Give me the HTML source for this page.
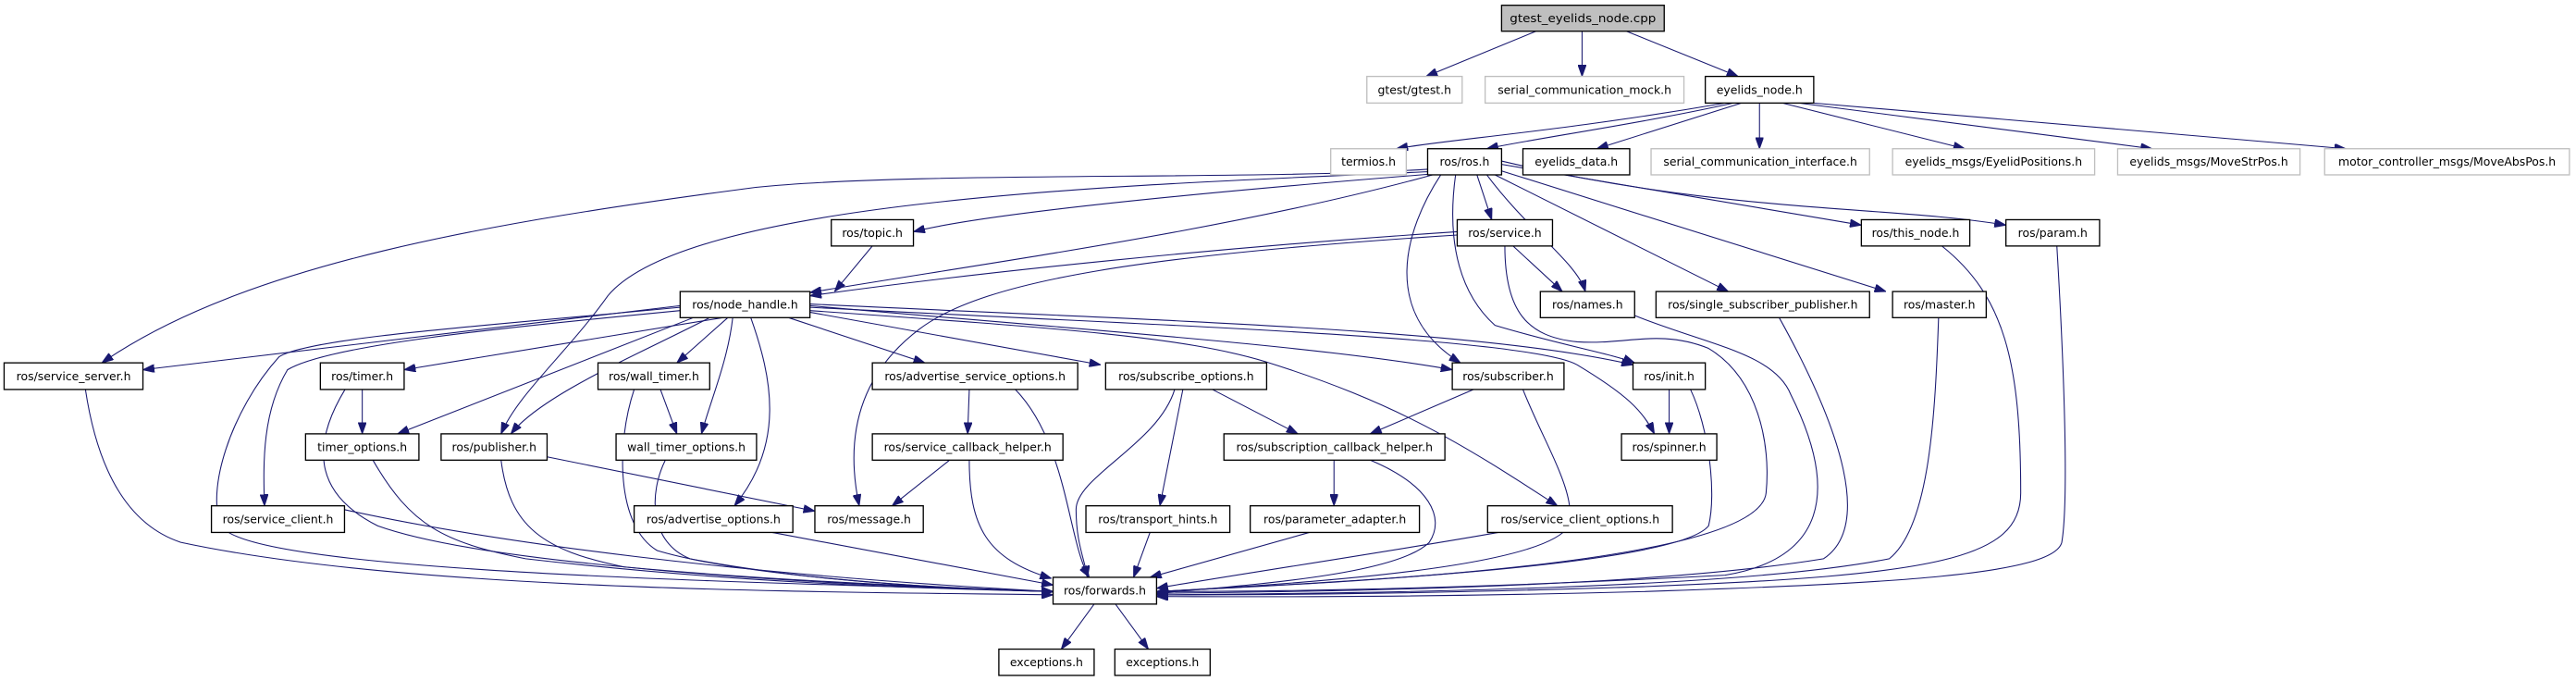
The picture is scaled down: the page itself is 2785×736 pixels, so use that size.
<!DOCTYPE html>
<html><head><meta charset="utf-8"><style>
html,body{margin:0;padding:0;background:#fff;}
svg{display:block;}
text{font-family:"DejaVu Sans","Liberation Sans",sans-serif;font-size:7px;fill:#000;}
.n rect{fill:#fff;stroke:#000;stroke-width:0.75;}
.g rect{fill:#fff;stroke:#bfbfbf;stroke-width:0.75;}
.e path{fill:none;stroke:#191970;stroke-width:0.6;}
</style></head><body>
<svg width="2785" height="736" viewBox="0 0 1568 414.4" preserveAspectRatio="none" xmlns="http://www.w3.org/2000/svg">
<defs><marker id="a" markerWidth="7" markerHeight="5" refX="7" refY="2.5" orient="auto" markerUnits="userSpaceOnUse"><path d="M0,0L7,2.5L0,5z" fill="#191970" stroke="#191970" stroke-width="0.5"/></marker></defs>
<g class="e">
<path d="M935,19 L868,46.5" marker-end="url(#a)"/>
<path d="M963,19 L963,46.5" marker-end="url(#a)"/>
<path d="M990,19 L1058,46.5" marker-end="url(#a)"/>
<path d="M1050,62.7 C950,80 880,85 850,90.5" marker-end="url(#a)"/>
<path d="M1055,62.7 C1000,75 930,85 905,90.5" marker-end="url(#a)"/>
<path d="M1060,62.7 L972,90.5" marker-end="url(#a)"/>
<path d="M1071,62.7 L1071,90.5" marker-end="url(#a)"/>
<path d="M1085,62.7 L1196,90.5" marker-end="url(#a)"/>
<path d="M1095,62.7 L1310,90.5" marker-end="url(#a)"/>
<path d="M1104,62.7 L1428,90.5" marker-end="url(#a)"/>
<path d="M869,103 C760,110 560,104 460,114 C300,135 150,160 62,220.8" marker-end="url(#a)"/>
<path d="M869,104.5 C700,112 420,120 370,180 C345,215 315,240 305,264" marker-end="url(#a)"/>
<path d="M870,106 C720,118 600,130 556,141" marker-end="url(#a)"/>
<path d="M872,106.4 C750,140 600,160 493,178" marker-end="url(#a)"/>
<path d="M877,106.4 C855,140 840,190 889,220.8" marker-end="url(#a)"/>
<path d="M886,106.4 C880,150 890,180 910,198 C950,210 980,215 995,220.8" marker-end="url(#a)"/>
<path d="M899,106.4 L908,133.7" marker-end="url(#a)"/>
<path d="M905,106.4 C930,140 960,160 965,177.4" marker-end="url(#a)"/>
<path d="M910,106.4 L1052,177.4" marker-end="url(#a)"/>
<path d="M914,104 L1148,177.4" marker-end="url(#a)"/>
<path d="M914,100 L1133,137" marker-end="url(#a)"/>
<path d="M914,98 C1050,130 1150,125 1221,137" marker-end="url(#a)"/>
<path d="M921,149.7 L951,177.4" marker-end="url(#a)"/>
<path d="M887,141 C750,150 600,165 493,180" marker-end="url(#a)"/>
<path d="M887,143 C700,155 600,170 560,200 C520,230 515,270 523,307.8" marker-end="url(#a)"/>
<path d="M916,149.7 C916,190 930,205 960,208 C990,210 1010,200 1040,212 C1070,230 1078,270 1075,300 C1070,345 800,355 704,360" marker-end="url(#a)"/>
<path d="M531,149.7 L508,177.4" marker-end="url(#a)"/>
<path d="M414,186 L87,225" marker-end="url(#a)"/>
<path d="M440,193.3 L246,225" marker-end="url(#a)"/>
<path d="M443,193.3 L412,220.8" marker-end="url(#a)"/>
<path d="M480,193.3 L563,220.8" marker-end="url(#a)"/>
<path d="M493,190 L670,222" marker-end="url(#a)"/>
<path d="M493,186 C650,200 800,210 884,225" marker-end="url(#a)"/>
<path d="M493,185 C700,195 900,200 994,222" marker-end="url(#a)"/>
<path d="M493,187 C700,198 930,205 960,222 C990,240 1000,250 1007,264" marker-end="url(#a)"/>
<path d="M493,189 C650,200 720,205 770,220 C850,245 890,270 948,307.8" marker-end="url(#a)"/>
<path d="M422,193.3 L242,264" marker-end="url(#a)"/>
<path d="M432,193.3 C390,215 330,240 311,264" marker-end="url(#a)"/>
<path d="M446,193.3 C443,220 432,245 427,264" marker-end="url(#a)"/>
<path d="M457,193.3 C470,230 478,270 447,307.8" marker-end="url(#a)"/>
<path d="M414,189 C300,200 200,210 175,225 C160,250 160,280 161,307.8" marker-end="url(#a)"/>
<path d="M414,187 C300,198 190,205 170,217 C140,250 125,300 135,320 C150,350 500,355 641,360" marker-end="url(#a)"/>
<path d="M52,237 C60,290 80,320 110,330 C250,360 500,360 641,362" marker-end="url(#a)"/>
<path d="M220.5,237 L220.5,264" marker-end="url(#a)"/>
<path d="M210,237 C190,270 190,300 230,320 C300,345 500,355 641,360" marker-end="url(#a)"/>
<path d="M227,280 C250,320 270,330 320,340 C450,355 560,358 641,360" marker-end="url(#a)"/>
<path d="M305,280 C310,320 330,335 380,345 C480,355 580,358 641,360" marker-end="url(#a)"/>
<path d="M333,278 L496,311" marker-end="url(#a)"/>
<path d="M402,237 L412,264" marker-end="url(#a)"/>
<path d="M386,237 C375,270 375,320 400,335 C450,350 560,358 641,360" marker-end="url(#a)"/>
<path d="M405,280 C395,300 395,330 420,340 C500,355 580,358 641,360" marker-end="url(#a)"/>
<path d="M590,237 L589,264" marker-end="url(#a)"/>
<path d="M618,237 C650,270 650,330 663,351.3" marker-end="url(#a)"/>
<path d="M578,280 L543,307.8" marker-end="url(#a)"/>
<path d="M590,280 C590,320 600,340 640,352" marker-end="url(#a)"/>
<path d="M720,237 L706,307.8" marker-end="url(#a)"/>
<path d="M715,237 C705,270 655,290 655,310 C655,330 660,340 662,351.3" marker-end="url(#a)"/>
<path d="M738,237 L790,264" marker-end="url(#a)"/>
<path d="M897,237 L834,264" marker-end="url(#a)"/>
<path d="M927,237 C940,270 960,300 955,320 C940,345 800,355 704,360" marker-end="url(#a)"/>
<path d="M1016,237 L1016,264" marker-end="url(#a)"/>
<path d="M1029,237 C1040,260 1045,300 1040,320 C1020,345 800,355 704,360" marker-end="url(#a)"/>
<path d="M812,280 L812,307.8" marker-end="url(#a)"/>
<path d="M834,280 C870,295 880,315 870,330 C850,350 760,356 704,361" marker-end="url(#a)"/>
<path d="M209,310 C300,330 450,350 641,360" marker-end="url(#a)"/>
<path d="M470,324 L641,356" marker-end="url(#a)"/>
<path d="M700,324 L690,351.3" marker-end="url(#a)"/>
<path d="M797,324 L700,351.3" marker-end="url(#a)"/>
<path d="M912,324 C850,335 750,350 704,358" marker-end="url(#a)"/>
<path d="M995,192 C1040,210 1080,215 1090,240 C1120,300 1110,340 1050,350 C900,358 780,360 704,360" marker-end="url(#a)"/>
<path d="M1083,193.3 C1120,260 1140,320 1110,340 C1000,358 800,360 704,361" marker-end="url(#a)"/>
<path d="M1180,193.3 C1178,250 1175,320 1150,340 C1050,360 800,361 704,362" marker-end="url(#a)"/>
<path d="M1182,149.7 C1220,180 1230,220 1230,300 C1230,340 1180,350 1000,357 C850,362 750,362 704,362" marker-end="url(#a)"/>
<path d="M1252,149.7 C1255,200 1260,300 1255,330 C1250,350 1150,355 1000,360 C850,364 750,363 704,363" marker-end="url(#a)"/>
<path d="M666,367.6 L646,395" marker-end="url(#a)"/>
<path d="M679,367.6 L699,395" marker-end="url(#a)"/>
</g>

<g>
<rect x="914" y="3.2" width="99" height="15.8" fill="#bfbfbf" stroke="#000" stroke-width="0.75"/>
<text x="963.5" y="13.6" text-anchor="middle" textLength="89" lengthAdjust="spacingAndGlyphs">gtest_eyelids_node.cpp</text>
</g>
<g class="g">
<rect x="832" y="46.5" width="58" height="16.2"/><text x="861" y="57.1" text-anchor="middle">gtest/gtest.h</text>
<rect x="904" y="46.5" width="121" height="16.2"/><text x="964.5" y="57.1" text-anchor="middle">serial_communication_mock.h</text>
<rect x="810" y="90.5" width="46" height="15.9"/><text x="833" y="100.9" text-anchor="middle">termios.h</text>
<rect x="1005" y="90.5" width="133" height="15.9"/><text x="1071.5" y="100.9" text-anchor="middle">serial_communication_interface.h</text>
<rect x="1152" y="90.5" width="123" height="15.9"/><text x="1213.5" y="100.9" text-anchor="middle">eyelids_msgs/EyelidPositions.h</text>
<rect x="1289" y="90.5" width="111" height="15.9"/><text x="1344.5" y="100.9" text-anchor="middle">eyelids_msgs/MoveStrPos.h</text>
<rect x="1415" y="90.5" width="149" height="15.9"/><text x="1489.5" y="100.9" text-anchor="middle">motor_controller_msgs/MoveAbsPos.h</text>
</g>
<g class="n">
<rect x="1038" y="46.5" width="66" height="16.2"/><text x="1071" y="57.1" text-anchor="middle">eyelids_node.h</text>
<rect x="869" y="90.5" width="45" height="15.9"/><text x="891.5" y="100.9" text-anchor="middle">ros/ros.h</text>
<rect x="927" y="90.5" width="65" height="15.9"/><text x="959.5" y="100.9" text-anchor="middle">eyelids_data.h</text>
<rect x="506" y="133.7" width="50" height="16"/><text x="531" y="144.1" text-anchor="middle">ros/topic.h</text>
<rect x="887" y="133.7" width="58" height="16"/><text x="916" y="144.1" text-anchor="middle">ros/service.h</text>
<rect x="1133" y="133.7" width="66" height="16"/><text x="1166" y="144.1" text-anchor="middle">ros/this_node.h</text>
<rect x="1221" y="133.7" width="57" height="16"/><text x="1249.5" y="144.1" text-anchor="middle">ros/param.h</text>
<rect x="414" y="177.4" width="79" height="15.9"/><text x="453.5" y="187.8" text-anchor="middle">ros/node_handle.h</text>
<rect x="937.6" y="177.4" width="57.4" height="15.9"/><text x="966.3" y="187.8" text-anchor="middle">ros/names.h</text>
<rect x="1008" y="177.4" width="130" height="15.9"/><text x="1073" y="187.8" text-anchor="middle">ros/single_subscriber_publisher.h</text>
<rect x="1152" y="177.4" width="57" height="15.9"/><text x="1180.5" y="187.8" text-anchor="middle">ros/master.h</text>
<rect x="2.5" y="220.8" width="84.5" height="16.2"/><text x="44.8" y="231.3" text-anchor="middle">ros/service_server.h</text>
<rect x="195" y="220.8" width="51" height="16.2"/><text x="220.5" y="231.3" text-anchor="middle">ros/timer.h</text>
<rect x="364" y="220.8" width="68" height="16.2"/><text x="398" y="231.3" text-anchor="middle">ros/wall_timer.h</text>
<rect x="531" y="220.8" width="125" height="16.2"/><text x="593.5" y="231.3" text-anchor="middle">ros/advertise_service_options.h</text>
<rect x="673" y="220.8" width="98" height="16.2"/><text x="722" y="231.3" text-anchor="middle">ros/subscribe_options.h</text>
<rect x="884" y="220.8" width="68" height="16.2"/><text x="918" y="231.3" text-anchor="middle">ros/subscriber.h</text>
<rect x="994" y="220.8" width="44" height="16.2"/><text x="1016" y="231.3" text-anchor="middle">ros/init.h</text>
<rect x="186" y="264" width="69" height="16"/><text x="220.5" y="274.4" text-anchor="middle">timer_options.h</text>
<rect x="268.5" y="264" width="64.5" height="16"/><text x="300.8" y="274.4" text-anchor="middle">ros/publisher.h</text>
<rect x="375" y="264" width="85.5" height="16"/><text x="417.8" y="274.4" text-anchor="middle">wall_timer_options.h</text>
<rect x="531" y="264" width="116" height="16"/><text x="589" y="274.4" text-anchor="middle">ros/service_callback_helper.h</text>
<rect x="745" y="264" width="134.5" height="16"/><text x="812.3" y="274.4" text-anchor="middle">ros/subscription_callback_helper.h</text>
<rect x="987" y="264" width="58" height="16"/><text x="1016" y="274.4" text-anchor="middle">ros/spinner.h</text>
<rect x="128.7" y="307.8" width="81" height="16.2"/><text x="169.2" y="318.3" text-anchor="middle">ros/service_client.h</text>
<rect x="386" y="307.8" width="96.6" height="16.2"/><text x="434.3" y="318.3" text-anchor="middle">ros/advertise_options.h</text>
<rect x="496" y="307.8" width="66" height="16.2"/><text x="529" y="318.3" text-anchor="middle">ros/message.h</text>
<rect x="661" y="307.8" width="87.6" height="16.2"/><text x="704.8" y="318.3" text-anchor="middle">ros/transport_hints.h</text>
<rect x="761" y="307.8" width="103" height="16.2"/><text x="812.5" y="318.3" text-anchor="middle">ros/parameter_adapter.h</text>
<rect x="905.5" y="307.8" width="112.5" height="16.2"/><text x="961.8" y="318.3" text-anchor="middle">ros/service_client_options.h</text>
<rect x="641" y="351.3" width="63" height="16.3"/><text x="672.5" y="361.8" text-anchor="middle">ros/forwards.h</text>
<rect x="608" y="395" width="58" height="16"/><text x="637" y="405.4" text-anchor="middle">exceptions.h</text>
<rect x="678.6" y="395" width="58" height="16"/><text x="707.6" y="405.4" text-anchor="middle">exceptions.h</text>
</g>
</svg>
</body></html>
